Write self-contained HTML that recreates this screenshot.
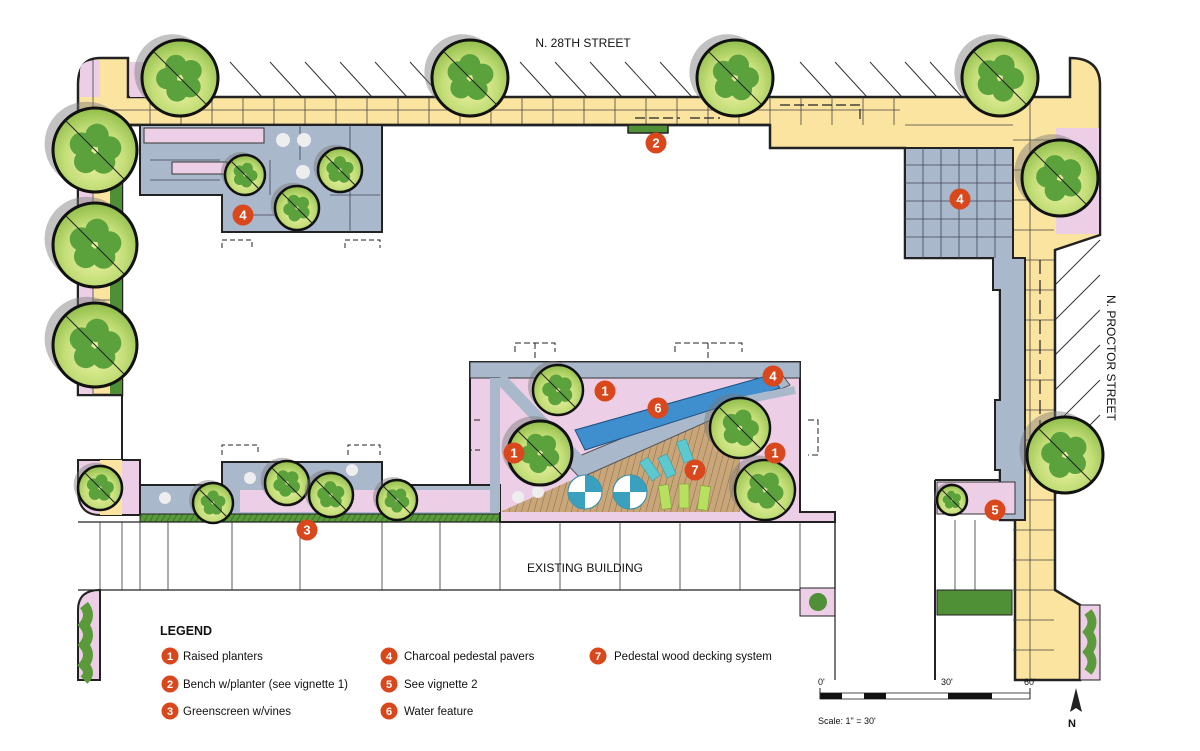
<!DOCTYPE html>
<html><head><meta charset="utf-8"><style>
html,body{margin:0;padding:0;background:#fff;}
svg{display:block;font-family:"Liberation Sans",sans-serif;}
.t{font-family:"Liberation Sans",sans-serif;fill:#111;}
</style></head><body>
<svg id="s" width="1200" height="751" viewBox="0 0 1200 751" xmlns="http://www.w3.org/2000/svg">
<defs>
<radialGradient id="tg" cx="0.5" cy="0.6" r="0.6">
<stop offset="0" stop-color="#f0f4a8"/><stop offset="0.6" stop-color="#c4de78"/><stop offset="1" stop-color="#8fbd4a"/>
</radialGradient>
<pattern id="deck" width="6" height="6" patternUnits="userSpaceOnUse" patternTransform="rotate(15)">
<rect width="6" height="6" fill="#c9a67a"/><line x1="0" y1="0" x2="0" y2="6" stroke="#8a6a45" stroke-width="1"/>
</pattern>
<pattern id="gs" width="5" height="8" patternUnits="userSpaceOnUse" patternTransform="rotate(30)">
<rect width="5" height="8" fill="#5a9a3a"/><line x1="0" y1="0" x2="0" y2="8" stroke="#2f6a20" stroke-width="1.5"/>
</pattern>
</defs>
<g id="bg">
<g stroke="#333" stroke-width="1">
<path d="M230 62 L262 97 M270 62 L302 97 M305 62 L337 97 M340 62 L372 97 M375 62 L407 97 M410 62 L442 97 M520 62 L552 97 M555 62 L587 97 M590 62 L622 97 M625 62 L657 97 M660 62 L692 97 M800 62 L832 97 M835 62 L867 97 M870 62 L902 97 M905 62 L937 97 M930 62 L962 97"/>
<path d="M1100 240 L1055 285 M1100 275 L1055 320 M1100 310 L1055 355 M1100 345 L1055 390 M1100 380 L1055 425 M1100 415 L1055 460 M1100 450 L1055 495"/>
</g>
<!-- sidewalk -->
<path d="M100 58 L128 58 L128 97 L1070 97 L1070 58 Q1100 58 1100 85 L1100 235 L1055 250 L1055 590 L1080 605 L1080 680 L1015 680 L1015 520 L1000 520 L1000 258 L905 258 L905 148 L770 148 L770 125 L122 125 L122 395 L78 395 L78 85 Q78 58 100 58 Z" fill="#fbe3a0" stroke="#222" stroke-width="2.5"/>
<rect x="79" y="125" width="14" height="269" fill="#eccfe6"/>
<rect x="110" y="125" width="12" height="269" fill="#4f8f35"/>
<path d="M122 395 L122 460" stroke="#222" stroke-width="2"/>
<rect x="1056" y="128" width="43" height="106" fill="#eccfe6"/>
<path d="M80 70 Q80 60 100 60 L100 97 L80 97Z" fill="#eccfe6"/>
<rect x="130" y="62" width="45" height="35" fill="#eccfe6"/>
<g id="ygrid" stroke="#444" stroke-width="0.8"></g>
<path d="M122 125 L770 125" stroke="#222" stroke-width="2.5"/>
<rect x="628" y="125" width="40" height="8" fill="#4f8f35" stroke="#222" stroke-width="1.5"/>
<path d="M635 118 L680 118 M690 118 L720 118 M780 105 L860 105 L860 120" stroke="#222" stroke-width="1.2" stroke-dasharray="10 4" fill="none"/>
<path d="M1040 260 L1040 480" stroke="#222" stroke-width="1.2" stroke-dasharray="14 6"/>

<!-- upper left terrace -->
<path d="M140 125 L382 125 L382 232 L222 232 L222 195 L140 195 Z" fill="#aab8cc" stroke="#222" stroke-width="2"/>
<rect x="144" y="128" width="120" height="15" fill="#eccfe6" stroke="#333"/>
<rect x="172" y="162" width="55" height="12" fill="#eccfe6" stroke="#333"/>
<path d="M222 248 L222 240 L252 240 L252 248 M345 248 L345 240 L380 240 L380 248" stroke="#222" stroke-dasharray="5 3" fill="none"/>
<g stroke="#445" stroke-width="0.8" fill="none"><path d="M150 160 H220 M150 180 H220 M270 160 V195 M300 125 V160 M330 195 H380 M350 125 V232 M245 215 H300"/></g>
<circle cx="283" cy="140" r="7" fill="#eee"/><circle cx="304" cy="140" r="7" fill="#eee"/><circle cx="303" cy="172" r="7" fill="#eee"/>

<!-- right paver block -->
<path d="M905 148 L1013 148 L1013 258 L1025 258 L1025 520 L1000 520 L1000 470 L995 470 L995 400 L1000 400 L1000 290 L993 290 L993 258 L905 258 Z" fill="#aab8cc" stroke="#222" stroke-width="2"/>
<g stroke="#445" stroke-width="0.8"><path d="M905 165 H1013 M905 183 H1013 M905 201 H1013 M905 219 H1013 M905 237 H1013 M923 148 V258 M941 148 V258 M959 148 V258 M977 148 V258 M995 148 V258"/></g>

<!-- bottom left strip -->
<path d="M78 460 L140 460 L140 515 L100 515 Q78 515 78 490 Z" fill="#eccfe6" stroke="#222" stroke-width="2"/>
<rect x="100" y="460" width="22" height="55" fill="#fbe3a0"/>
<path d="M140 485 L222 485 L222 462 L382 462 L382 485 L500 485 L500 515 L140 515 Z" fill="#aab8cc" stroke="#222" stroke-width="2"/>
<rect x="240" y="490" width="140" height="22" fill="#eccfe6"/>
<rect x="410" y="490" width="85" height="22" fill="#eccfe6"/>
<path d="M222 455 L222 445 L258 445 L258 455 M348 455 L348 445 L380 445 L380 455" stroke="#222" stroke-dasharray="5 3" fill="none"/>
<circle cx="250" cy="478" r="6" fill="#eee"/><circle cx="352" cy="470" r="6" fill="#eee"/><circle cx="165" cy="498" r="6" fill="#eee"/>
<rect x="140" y="514" width="360" height="8" fill="url(#gs)" stroke="#222"/>
<rect x="620" y="514" width="215" height="8" fill="url(#gs)" stroke="#222"/>

<!-- center courtyard -->
<path d="M470 362 L800 362 L800 512 L835 512 L835 522 L500 522 L500 485 L470 485 Z" fill="#eccfe6" stroke="#222" stroke-width="2"/>
<rect x="470" y="362" width="330" height="16" fill="#aab8cc" stroke="#333"/>
<path d="M495 378 L495 512" stroke="#aab8cc" stroke-width="10"/>
<path d="M500 512 L740 405 L740 512 Z" fill="url(#deck)"/>
<path d="M565 462 L780 372 L790 385 L580 478 Z" fill="#aab8cc" stroke="#555"/>
<path d="M575 430 L770 375 L780 388 L585 450 Z" fill="#3f8fcf" stroke="#1f4f7f"/>
<path d="M500 378 L580 462" stroke="#aab8cc" stroke-width="12"/>
<path d="M745 400 L795 390" stroke="#aab8cc" stroke-width="8"/>
<path d="M515 352 L515 343 L555 343 L555 352 M535 343 V362 M675 352 L675 343 L742 343 L742 352 M708 343 V362" stroke="#222" stroke-dasharray="6 3" fill="none"/>
<path d="M480 420 L470 420 L470 450 L480 450 M808 420 L818 420 L818 455 L808 455" stroke="#222" stroke-dasharray="6 3" fill="none"/>
<g fill="#5cc8d0" stroke="#3a9aa0" stroke-width="0.6">
<rect x="645" y="458" width="10" height="22" transform="rotate(-35 650 469)"/>
<rect x="662" y="455" width="10" height="22" transform="rotate(-25 667 466)"/>
<rect x="680" y="440" width="10" height="22" transform="rotate(-20 685 451)"/>
</g>
<g fill="#b8e060" stroke="#7aa030" stroke-width="0.6">
<rect x="660" y="485" width="10" height="24" transform="rotate(-8 665 497)"/>
<rect x="679" y="484" width="10" height="24"/>
<rect x="699" y="486" width="10" height="24" transform="rotate(8 704 498)"/>
</g>
<circle cx="518" cy="497" r="6" fill="#eee"/><circle cx="538" cy="492" r="6" fill="#eee"/>
<g>
<circle cx="585" cy="492" r="17" fill="#fff" stroke="#2a8aa8"/>
<path d="M585 492 L585 475 A17 17 0 0 1 602 492 Z M585 492 L585 509 A17 17 0 0 1 568 492 Z" fill="#3aa0c0"/>
<circle cx="630" cy="492" r="17" fill="#fff" stroke="#2a8aa8"/>
<path d="M630 492 L630 475 A17 17 0 0 1 647 492 Z M630 492 L630 509 A17 17 0 0 1 613 492 Z" fill="#3aa0c0"/>
</g>

<!-- existing building -->
<g stroke="#222" stroke-width="1.2"><path d="M78 522 L835 522 M835 522 L835 590 M78 590 L805 590"/></g>
<g id="bld" stroke="#333" stroke-width="0.8"></g>
<path d="M78 680 L78 610 Q78 590 100 590 L100 680 Z" fill="#eccfe6" stroke="#222" stroke-width="2"/>
<path d="M84 605 q8 10 0 20 q8 10 0 20 q8 10 0 20 q8 8 0 15" stroke="#5a9a3a" stroke-width="10" fill="none"/>
<rect x="800" y="588" width="35" height="28" fill="#eccfe6" stroke="#222"/>
<circle cx="818" cy="602" r="9" fill="#4f8f35"/>
<path d="M835 522 L835 680" stroke="#222" stroke-width="1.2"/>
<path d="M935 480 L1000 480 L1000 520 L1015 520 M935 480 L935 680" fill="none" stroke="#222" stroke-width="2"/>
<rect x="937" y="482" width="78" height="32" fill="#eccfe6" stroke="#333"/>
<rect x="937" y="590" width="75" height="25" fill="#4f8f35" stroke="#222"/>
<rect x="1080" y="605" width="20" height="75" fill="#eccfe6" stroke="#222"/>
<path d="M1088 612 q8 10 0 20 q8 10 0 20 q8 10 0 20" stroke="#5a9a3a" stroke-width="9" fill="none"/>
<path d="M955 520 L955 590 M975 520 L975 590" stroke="#333" stroke-width="0.8"/>
</g>
<g id="trees"></g>
<g id="marks"></g>

<text class="t" x="583" y="47" font-size="12" text-anchor="middle">N. 28TH STREET</text>
<text class="t" font-size="12" transform="translate(1107,295) rotate(90)">N. PROCTOR STREET</text>
<text class="t" x="585" y="572" font-size="12" text-anchor="middle">EXISTING BUILDING</text>
<text class="t" x="160" y="635" font-size="12.5" font-weight="bold">LEGEND</text>
<g font-size="11.5" class="t">
<text x="183" y="660">Raised planters</text>
<text x="183" y="688">Bench w/planter (see vignette 1)</text>
<text x="183" y="715">Greenscreen w/vines</text>
<text x="404" y="660">Charcoal pedestal pavers</text>
<text x="404" y="688">See vignette 2</text>
<text x="404" y="715">Water feature</text>
<text x="614" y="660">Pedestal wood decking system</text>
</g>
<g>
<text class="t" x="818" y="685" font-size="9">0'</text>
<text class="t" x="941" y="685" font-size="9">30'</text>
<text class="t" x="1024" y="685" font-size="9">60'</text>
<rect x="820" y="693" width="210" height="6" fill="#fff" stroke="#222" stroke-width="0.8"/>
<rect x="820" y="693" width="22" height="6" fill="#111"/><rect x="864" y="693" width="22" height="6" fill="#111"/><rect x="948" y="693" width="44" height="6" fill="#111"/>
<path d="M820 688 V699 M1030 688 V699" stroke="#222"/>
<text class="t" x="818" y="724" font-size="9">Scale: 1" = 30'</text>
<path d="M1076 688 L1070 712 L1076 708 L1082 712 Z" fill="#222"/>
<text class="t" x="1068" y="727" font-size="11" font-weight="bold">N</text>
</g>
</svg>
<script>
var NS="http://www.w3.org/2000/svg";
function el(p,t,a){var e=document.createElementNS(NS,t);for(var k in a)e.setAttribute(k,a[k]);document.getElementById(p).appendChild(e);return e;}
var gp="";
for(var x=150;x<905;x+=31)gp+="M"+x+" 97 V125 ";
gp+="M78 110 H900 M905 125 H1013 ";
for(var y=140;y<680;y+=30)gp+="M1013 "+y+" H1054 ";
for(var y=140;y<395;y+=32)gp+="M93 "+y+" H110 ";
gp+="M1030 60 V680 M93 60 V395";
el("ygrid","path",{d:gp});
var bp="";[100,122,140,168,232,300,382,440,500,560,620,680,740,800].forEach(function(x){bp+="M"+x+" 522 V590 ";});
el("bld","path",{d:bp});
var T=[[180,78,38],[470,78,38],[735,78,38],[1000,78,38],[1060,178,38],[1065,455,38],[95,150,42],[95,245,42],[95,345,42],[100,488,22],
[245,175,20],[297,208,22],[340,170,22],[213,503,20],[287,483,22],[331,495,22],[397,500,20],[558,390,25],[540,453,32],[740,428,30],[765,490,30],[952,500,15]];
T.forEach(function(t){var cx=t[0],cy=t[1],r=t[2];
el("trees","circle",{cx:cx-r*0.2,cy:cy-r*0.15,r:r,fill:"#777","fill-opacity":"0.45"});
el("trees","circle",{cx:cx,cy:cy,r:r,fill:"url(#tg)"});
for(var i=0;i<5;i++){var a=i*1.3+cx*0.01;el("trees","circle",{cx:cx+Math.cos(a)*r*0.35,cy:cy+Math.sin(a)*r*0.35,r:r*0.28,fill:"#5ba23c"});}
el("trees","circle",{cx:cx,cy:cy,r:r,fill:"none",stroke:"#111","stroke-width":r>30?3:2.5});
el("trees","line",{x1:cx-r*0.7,y1:cy-r*0.7,x2:cx+r*0.7,y2:cy+r*0.7,stroke:"#222","stroke-width":1});
});
var M=[[656,143,"2"],[243,215,"4"],[960,199,"4"],[605,391,"1"],[658,408,"6"],[773,376,"4"],[514,453,"1"],[695,470,"7"],[775,453,"1"],[307,530,"3"],[995,510,"5"],
[170,656,"1"],[170,684,"2"],[170,711,"3"],[389,656,"4"],[389,684,"5"],[389,711,"6"],[598,656,"7"]];
M.forEach(function(m){var big=m[1]<600;var r=big?10.5:8.5;
el("marks","circle",{cx:m[0],cy:m[1],r:r,fill:"#d9481c"});
var t=el("marks","text",{x:m[0],y:m[1]+(big?4.5:4),"text-anchor":"middle","font-size":big?13:11,"font-weight":"bold",fill:"#fff","font-family":"Liberation Sans, sans-serif"});t.textContent=m[2];});
</script>
</body></html>
